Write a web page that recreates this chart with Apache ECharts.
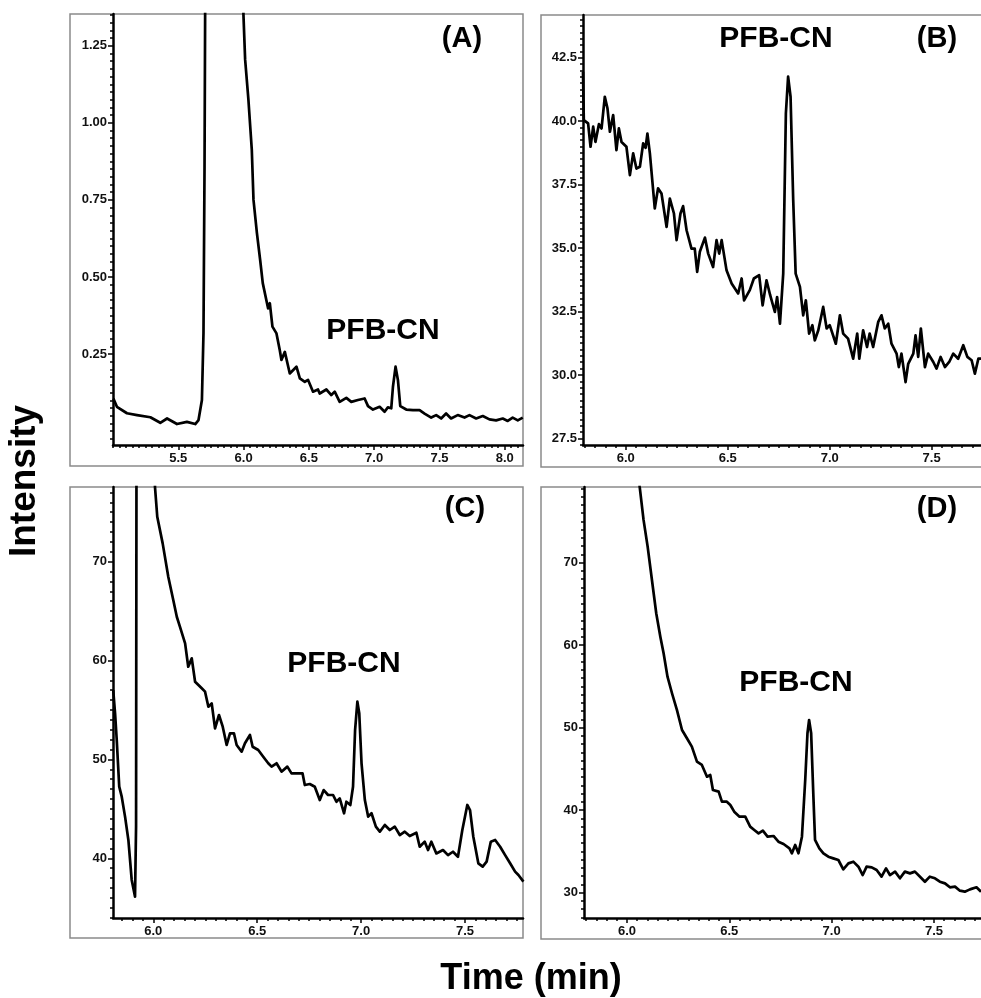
<!DOCTYPE html>
<html>
<head>
<meta charset="utf-8">
<title>PFB-CN chromatograms</title>
<script src="https://cdn.jsdelivr.net/npm/echarts@6/dist/echarts.min.js"></script>
<style>
  html, body { margin: 0; padding: 0; background: #fff; }
  #main { width: 981px; height: 998px; }
</style>
</head>
<body>
<div id="main"></div>
<script>
// [time (min), intensity]
var chromA = [[5.003,0.106],[5.03,0.079],[5.107,0.058],[5.184,0.052],[5.286,0.045],[5.362,0.027],[5.414,0.041],[5.49,0.023],[5.566,0.030],[5.63,0.023],[5.655,0.036],[5.681,0.101],[5.693,0.318],[5.701,0.857],[5.706,1.40],[5.72,3.5],[5.95,3.5],[5.999,1.351],[6.012,1.205],[6.037,1.075],[6.063,0.912],[6.076,0.75],[6.102,0.643],[6.127,0.555],[6.147,0.48],[6.188,0.398],[6.201,0.415],[6.221,0.339],[6.252,0.317],[6.277,0.263],[6.29,0.231],[6.316,0.257],[6.354,0.187],[6.405,0.209],[6.431,0.171],[6.469,0.160],[6.494,0.166],[6.532,0.128],[6.57,0.135],[6.583,0.122],[6.634,0.135],[6.672,0.117],[6.698,0.128],[6.736,0.095],[6.787,0.108],[6.825,0.095],[6.876,0.101],[6.927,0.106],[6.953,0.081],[6.991,0.070],[7.042,0.079],[7.08,0.063],[7.105,0.077],[7.131,0.074],[7.144,0.144],[7.164,0.209],[7.182,0.166],[7.2,0.081],[7.246,0.070],[7.297,0.068],[7.348,0.068],[7.386,0.057],[7.437,0.044],[7.475,0.052],[7.513,0.041],[7.551,0.057],[7.589,0.041],[7.64,0.052],[7.692,0.044],[7.73,0.052],[7.781,0.041],[7.832,0.049],[7.883,0.038],[7.934,0.035],[7.985,0.041],[8.023,0.033],[8.061,0.044],[8.1,0.035],[8.138,0.044]];

var chromB = [[5.79,41.94],[5.794,40.04],[5.815,39.91],[5.827,38.99],[5.84,39.78],[5.851,39.18],[5.868,39.88],[5.881,39.71],[5.897,40.96],[5.91,40.50],[5.922,39.58],[5.938,40.24],[5.954,38.86],[5.966,39.71],[5.979,39.18],[6.003,38.99],[6.02,37.87],[6.036,38.73],[6.052,38.13],[6.069,38.20],[6.085,39.12],[6.097,38.95],[6.106,39.51],[6.118,38.73],[6.142,36.56],[6.158,37.35],[6.175,37.15],[6.2,35.83],[6.216,36.95],[6.236,36.36],[6.249,35.31],[6.268,36.36],[6.281,36.65],[6.298,35.70],[6.322,34.98],[6.338,34.98],[6.35,34.06],[6.363,34.85],[6.388,35.41],[6.404,34.78],[6.428,34.25],[6.445,35.31],[6.458,34.78],[6.47,35.31],[6.494,34.12],[6.519,33.60],[6.551,33.21],[6.568,33.80],[6.58,32.94],[6.608,33.34],[6.628,33.80],[6.654,33.93],[6.671,32.74],[6.69,33.73],[6.708,33.14],[6.731,32.48],[6.742,33.07],[6.756,32.02],[6.772,33.99],[6.785,40.30],[6.796,41.75],[6.808,40.96],[6.821,36.88],[6.833,33.99],[6.854,33.47],[6.87,32.35],[6.883,32.94],[6.899,31.63],[6.915,31.96],[6.927,31.36],[6.944,31.76],[6.968,32.68],[6.985,31.83],[7.0,31.96],[7.03,31.23],[7.05,32.35],[7.066,31.63],[7.09,31.43],[7.115,30.64],[7.135,31.63],[7.145,30.64],[7.164,31.76],[7.183,31.10],[7.196,31.63],[7.213,31.10],[7.238,32.09],[7.254,32.35],[7.27,31.83],[7.287,32.02],[7.303,31.23],[7.328,30.84],[7.339,30.31],[7.352,30.84],[7.372,29.72],[7.385,30.44],[7.41,30.84],[7.421,31.56],[7.434,30.71],[7.447,31.83],[7.467,30.31],[7.483,30.84],[7.508,30.51],[7.524,30.25],[7.544,30.71],[7.565,30.31],[7.586,30.51],[7.606,30.84],[7.63,30.64],[7.655,31.17],[7.675,30.71],[7.696,30.58],[7.712,30.05],[7.729,30.64],[7.742,30.64]];

var chromC = [[5.807,57.02],[5.816,54.66],[5.824,51.96],[5.836,47.24],[5.848,46.23],[5.864,44.21],[5.88,41.85],[5.896,37.81],[5.912,36.12],[5.917,43.20],[5.919,80],[5.93,150],[5.99,150],[6.008,77.57],[6.019,74.54],[6.045,71.85],[6.072,68.47],[6.096,66.12],[6.113,64.43],[6.128,63.42],[6.153,61.74],[6.168,59.37],[6.185,60.22],[6.201,57.86],[6.233,57.19],[6.249,56.85],[6.265,55.33],[6.281,55.67],[6.297,53.14],[6.316,54.49],[6.334,53.31],[6.353,51.46],[6.369,52.64],[6.388,52.64],[6.401,51.46],[6.425,50.78],[6.441,51.63],[6.465,52.47],[6.478,51.28],[6.505,50.95],[6.529,50.27],[6.553,49.61],[6.569,49.27],[6.593,49.61],[6.617,48.76],[6.645,49.27],[6.665,48.59],[6.689,48.59],[6.718,48.59],[6.729,47.41],[6.753,47.51],[6.777,47.24],[6.801,45.89],[6.82,46.90],[6.841,46.40],[6.865,46.40],[6.881,45.72],[6.897,46.06],[6.918,44.55],[6.929,45.72],[6.948,45.38],[6.961,47.24],[6.971,52.97],[6.982,55.84],[6.991,54.66],[7.002,49.61],[7.018,45.89],[7.034,44.21],[7.05,44.55],[7.071,43.20],[7.09,42.69],[7.114,43.37],[7.138,42.86],[7.162,43.20],[7.186,42.35],[7.21,42.69],[7.234,42.25],[7.266,42.58],[7.282,41.17],[7.306,41.68],[7.322,40.83],[7.338,41.68],[7.362,40.49],[7.394,40.83],[7.418,40.32],[7.442,40.66],[7.466,40.15],[7.487,42.86],[7.511,45.39],[7.524,44.88],[7.54,42.18],[7.564,39.49],[7.585,39.15],[7.604,39.66],[7.624,41.68],[7.645,41.85],[7.669,41.17],[7.693,40.32],[7.717,39.49],[7.741,38.65],[7.757,38.31],[7.781,37.64]];

var chromD = [[6.05,85],[6.062,79.21],[6.081,75.18],[6.101,71.94],[6.122,67.90],[6.143,63.87],[6.163,61.03],[6.179,59.02],[6.198,56.18],[6.22,54.17],[6.244,52.15],[6.269,49.72],[6.293,48.71],[6.317,47.70],[6.342,45.88],[6.366,45.48],[6.391,44.06],[6.407,44.26],[6.42,42.45],[6.448,42.25],[6.464,41.03],[6.488,41.03],[6.505,40.63],[6.524,39.82],[6.55,39.21],[6.578,39.21],[6.602,38.0],[6.622,37.60],[6.643,37.19],[6.664,37.52],[6.687,36.79],[6.716,36.87],[6.74,36.18],[6.765,35.90],[6.794,35.37],[6.806,34.77],[6.822,35.78],[6.838,34.77],[6.855,36.79],[6.871,43.66],[6.882,49.32],[6.89,50.93],[6.9,49.32],[6.911,41.64],[6.919,36.39],[6.94,35.37],[6.96,34.77],[6.984,34.36],[7.008,34.16],[7.033,33.96],[7.057,32.83],[7.082,33.55],[7.106,33.76],[7.131,33.15],[7.152,32.14],[7.171,33.15],[7.196,33.07],[7.22,32.75],[7.244,31.94],[7.266,32.95],[7.285,32.14],[7.31,32.55],[7.334,31.74],[7.358,32.55],[7.383,32.34],[7.407,32.55],[7.432,31.94],[7.456,31.33],[7.48,31.94],[7.505,31.74],[7.529,31.33],[7.554,31.13],[7.578,30.65],[7.603,30.73],[7.627,30.24],[7.651,30.12],[7.676,30.40],[7.708,30.65],[7.73,30.12]];

// tick labels
var xLabelsA = [5.5, 6.0, 6.5, 7.0, 7.5, 8.0];
var xLabelsBCD = [6.0, 6.5, 7.0, 7.5];
var yLabelsA = [0.25, 0.50, 0.75, 1.00, 1.25];
var yLabelsB = [27.5, 30.0, 32.5, 35.0, 37.5, 40.0, 42.5];
var yLabelsC = [40, 50, 60, 70];
var yLabelsD = [30, 40, 50, 60, 70];

var FONT = '"Liberation Sans", Arial, sans-serif';

function steps(min, max, step) {
  var out = [];
  for (var i = Math.ceil(min / step - 1e-6); i * step <= max + 1e-9; i++) out.push(+(i * step).toFixed(4));
  return out;
}

var panels = [
  { data: chromA, box: [113, 14, 410, 431], x: [5.0, 8.14], y: [-0.045, 1.353],
    xl: xLabelsA, yl: yLabelsA, xm: 0.05, ym: 0.025, yd: 2 },
  { data: chromB, box: [583, 15, 398, 430], x: [5.79, 7.742], y: [27.24, 44.18],
    xl: xLabelsBCD, yl: yLabelsB, xm: 0.05, ym: 0.25, yd: 1 },
  { data: chromC, box: [113, 487, 410, 431], x: [5.806, 7.779], y: [33.96, 77.55],
    xl: xLabelsBCD, yl: yLabelsC, xm: 0.05, ym: 1, yd: 0 },
  { data: chromD, box: [584, 487, 397, 431], x: [5.79, 7.73], y: [26.93, 79.17],
    xl: xLabelsBCD, yl: yLabelsD, xm: 0.05, ym: 1, yd: 0 }
];

var grids = [], xAxes = [], yAxes = [], series = [];
panels.forEach(function (p, i) {
  grids.push({ left: p.box[0], top: p.box[1], width: p.box[2], height: p.box[3], containLabel: false });
  var lbl = { color: '#111', fontWeight: 'bold', fontSize: 13, fontFamily: FONT };
  // main axes: line, major ticks, labels
  xAxes.push({
    type: 'value', gridIndex: i, position: 'bottom', min: p.x[0], max: p.x[1],
    axisLine: { show: true, onZero: false, lineStyle: { color: '#000', width: 2.5 } },
    axisTick: { show: true, length: 5, customValues: p.xl, lineStyle: { color: '#000', width: 1.5 } },
    axisLabel: Object.assign({ customValues: p.xl, margin: 7, formatter: function (v) { return v.toFixed(1); } }, lbl),
    splitLine: { show: false }
  });
  // minor tick axes
  xAxes.push({
    type: 'value', gridIndex: i, position: 'bottom', min: p.x[0], max: p.x[1],
    axisLine: { show: false, onZero: false },
    axisTick: { show: true, length: 3, customValues: steps(p.x[0], p.x[1], p.xm), lineStyle: { color: '#000', width: 1.5 } },
    axisLabel: { show: false }, splitLine: { show: false }
  });
  yAxes.push({
    type: 'value', gridIndex: i, position: 'left', min: p.y[0], max: p.y[1],
    axisLine: { show: true, onZero: false, lineStyle: { color: '#000', width: 2.5 } },
    axisTick: { show: true, length: 5, customValues: p.yl, lineStyle: { color: '#000', width: 1.5 } },
    axisLabel: Object.assign({ customValues: p.yl, margin: 6, formatter: (function (d) { return function (v) { return v.toFixed(d); }; })(p.yd) }, lbl),
    splitLine: { show: false }
  });
  yAxes.push({
    type: 'value', gridIndex: i, position: 'left', min: p.y[0], max: p.y[1],
    axisLine: { show: false, onZero: false },
    axisTick: { show: true, length: 3, customValues: steps(p.y[0], p.y[1], p.ym), lineStyle: { color: '#000', width: 1.5 } },
    axisLabel: { show: false }, splitLine: { show: false }
  });
  series.push({
    type: 'line', xAxisIndex: 2 * i, yAxisIndex: 2 * i, data: p.data,
    showSymbol: false, symbol: 'none', clip: true,
    lineStyle: { color: '#000', width: 2.7, join: 'round' }
  });
});

function txt(s, x, y, size, rot) {
  return {
    type: 'text', x: x, y: y, rotation: rot || 0, z: 10,
    style: { text: s, font: 'bold ' + size + 'px ' + FONT, fill: '#000', align: 'center', verticalAlign: 'middle' }
  };
}
function frame(x, y, w, h) {
  return { type: 'rect', shape: { x: x, y: y, width: w, height: h }, z: 0,
    style: { fill: 'none', stroke: '#8a8a8a', lineWidth: 1.5 } };
}

var chart = echarts.init(document.getElementById('main'), null, { renderer: 'canvas' });
chart.setOption({
  animation: false,
  backgroundColor: '#fff',
  grid: grids,
  xAxis: xAxes,
  yAxis: yAxes,
  series: series,
  graphic: [
    frame(70, 14, 453, 452), frame(541, 15, 460, 452),
    frame(70, 487, 453, 451), frame(541, 487, 460, 452),
    txt('(A)', 462, 39, 29), txt('PFB-CN', 383, 331, 30),
    txt('PFB-CN', 776, 39, 30), txt('(B)', 937, 39, 29),
    txt('PFB-CN', 344, 664, 30), txt('(C)', 465, 509, 29),
    txt('PFB-CN', 796, 683, 30), txt('(D)', 937, 509, 29),
    txt('Intensity', 25, 481, 37, Math.PI / 2),
    txt('Time (min)', 531, 979, 36)
  ]
});
</script>
</body>
</html>
